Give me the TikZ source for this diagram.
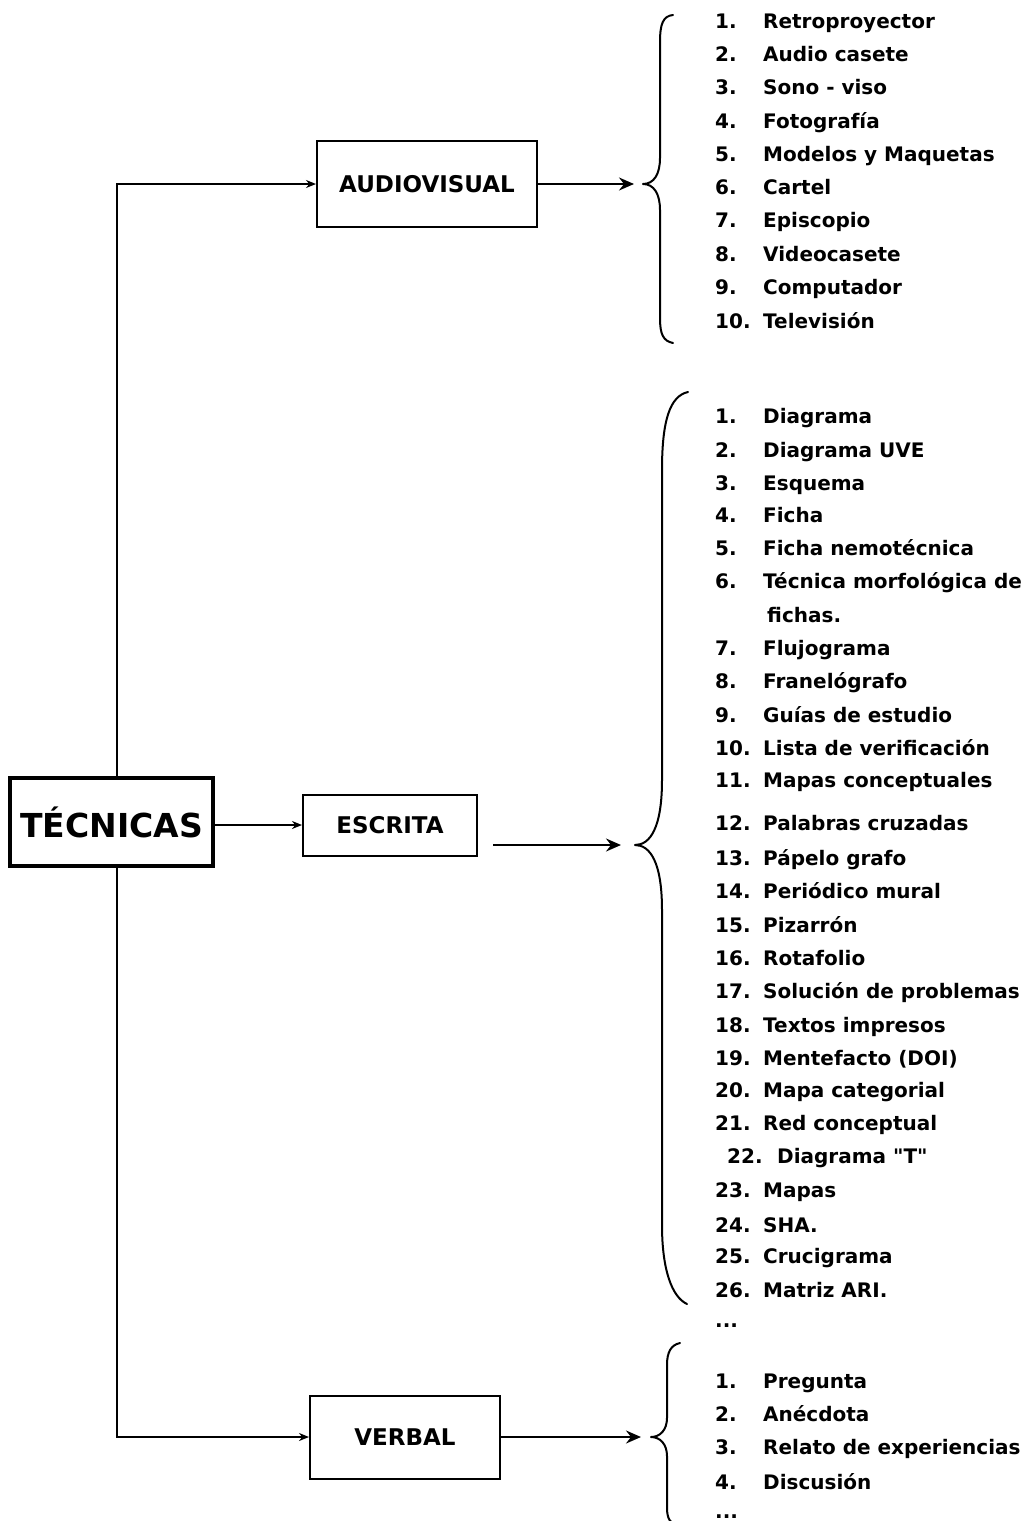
\documentclass[tikz,border=0pt]{standalone}
\usepackage{fontspec}
\newfontfamily\dvfont{DejaVu Sans}
\usetikzlibrary{arrows.meta,calc}
\begin{document}
\begin{tikzpicture}[x=1pt,y=-1pt,
  box/.style={draw,line width=2pt,inner sep=0pt,font=\dvfont\fontsize{23}{26}\selectfont\bfseries},
  itm/.style={anchor=base west,inner sep=0pt,font=\dvfont\fontsize{20}{24}\selectfont\bfseries},
  conn/.style={line width=2pt},
  tobox/.style={conn,-{Stealth[length=10pt,width=8pt]}},
  tobrace/.style={conn,-{Stealth[length=15pt,width=13pt,inset=5pt]}},
  brace/.style={line width=2pt,line cap=round,line join=round}]
\useasboundingbox (0,0) rectangle (1033,1521);
\fill[white] (0,0) rectangle (1033,1521);

% boxes
\node[box,line width=4pt,minimum width=203pt,minimum height=88pt,font=\dvfont\fontsize{33}{36}\selectfont\bfseries] (tec) at (111.5,822) {TÉCNICAS};
\node[box,minimum width=220pt,minimum height=86pt] (av) at (427,184) {AUDIOVISUAL};
\node[box,minimum width=174pt,minimum height=61pt] (es) at (390,825) {ESCRITA};
\node[box,minimum width=190pt,minimum height=83pt] (vb) at (405,1437) {VERBAL};

% connectors from TECNICAS
\draw[tobox] ($(tec.north)+(5.5,0)$) |- (av.west);
\draw[tobox] ($(tec.south)+(5.5,0)$) |- (vb.west);
\draw[tobox] (tec.east |- es.west) -- (es.west);

% brace tips
\coordinate (avtip) at (643,184);
\coordinate (estip) at (635,845);
\coordinate (vbtip) at (651,1437);
\coordinate (esfrom) at (493,845);

\draw[tobrace,shorten >=9pt] (av.east) -- (avtip);
\draw[tobrace,shorten >=14pt] (esfrom) -- (estip);
\draw[tobrace,shorten >=10pt] (vb.east) -- (vbtip);

% braces
\draw[brace] (673,15) .. controls (663,16) and (660,24) .. (660,42) -- (660,158)
  .. controls (660,174) and (654,184) .. (avtip)
  .. controls (654,184) and (660,194) .. (660,210) -- (660,318)
  .. controls (660,334) and (663,341) .. (673,343);
\draw[brace] (688,392) .. controls (670,396) and (662,420) .. (662,470) -- (662,780)
  .. controls (662,828) and (650,845) .. (estip)
  .. controls (650,845) and (662,862) .. (662,910) -- (662,1225)
  .. controls (662,1270) and (672,1297) .. (687,1304);
\draw[brace] (680,1343) .. controls (671,1345) and (667,1352) .. (667,1365) -- (667,1418)
  .. controls (667,1430) and (660,1437) .. (vbtip)
  .. controls (660,1437) and (667,1444) .. (667,1456) -- (667,1508)
  .. controls (667,1518) and (670,1524) .. (678,1526);

% audiovisual items
\foreach \y/\n/\t [count=\i] in {28/1./Retroproyector, 61/2./Audio casete, 94/3./Sono - viso,
  128/4./Fotografía, 161/5./Modelos y Maquetas, 194/6./Cartel, 227/7./Episcopio,
  261/8./Videocasete, 294/9./Computador, 328/10./Televisión}{
  \node[itm] (avn\i) at (715,\y) {\n};
  \node[itm] (avt\i) at (763,\y) {\t};
}

% escrita items
\foreach \y/\n/\t [count=\i] in {423/1./Diagrama, 457/2./Diagrama UVE, 490/3./Esquema,
  522/4./Ficha, 555/5./Ficha nemotécnica, 588/6./Técnica morfológica de,
  655/7./Flujograma, 688/8./Franelógrafo, 722/9./Guías de estudio,
  755/10./Lista de verificación, 787/11./Mapas conceptuales, 830/12./Palabras cruzadas,
  865/13./Pápelo grafo, 898/14./Periódico mural, 932/15./Pizarrón, 965/16./Rotafolio,
  998/17./Solución de problemas, 1032/18./Textos impresos, 1065/19./Mentefacto (DOI),
  1097/20./Mapa categorial, 1130/21./Red conceptual, 1197/23./Mapas, 1232/24./SHA.,
  1263/25./Crucigrama, 1297/26./Matriz ARI.}{
  \node[itm] (esn\i) at (715,\y) {\n};
  \node[itm] (est\i) at (763,\y) {\t};
}
\node[itm] (esfichas) at (767,622) {fichas.};
\node[itm] (esn22) at (727,1163) {22.};
\node[itm] (est22) at (777,1163) {Diagrama "T"};
\node[itm] (esdots) at (715,1327) {...};

% verbal items
\foreach \y/\n/\t [count=\i] in {1388/1./Pregunta, 1421/2./Anécdota,
  1454/3./Relato de experiencias, 1489/4./Discusión}{
  \node[itm] (vbn\i) at (715,\y) {\n};
  \node[itm] (vbt\i) at (763,\y) {\t};
}
\node[itm] (vbdots) at (715,1518) {...};
\end{tikzpicture}
\end{document}
